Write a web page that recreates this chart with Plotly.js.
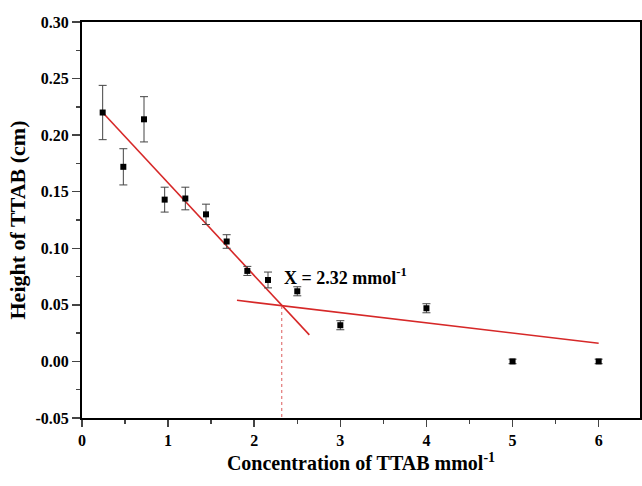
<!DOCTYPE html>
<html><head><meta charset="utf-8">
<script src="https://cdn.plot.ly/plotly-3.0.1.min.js"></script>
<style>html,body{margin:0;padding:0;background:#fff}#plot{width:642px;height:486px}</style>
</head><body><div id="plot"></div>
<script>
const conc = [0.24, 0.48, 0.72, 0.96, 1.2, 1.44, 1.68, 1.92, 2.16, 2.5, 3.0, 4.0, 5.0, 6.0];
const height = [0.220, 0.172, 0.214, 0.143, 0.144, 0.130, 0.106, 0.080, 0.072, 0.062, 0.032, 0.047, 0.000, 0.000];
const heightErr = [0.024, 0.016, 0.020, 0.011, 0.010, 0.009, 0.006, 0.004, 0.007, 0.004, 0.004, 0.004, 0.002, 0.002];
const fit1X = [0.24, 2.64];
const fit1Y = [0.220, 0.0235];
const fit2X = [1.8, 6.0];
const fit2Y = [0.054, 0.016];
const cmcX = [2.32, 2.32];
const cmcY = [0.049, -0.05];
const xTickVals = [0, 1, 2, 3, 4, 5, 6];
const yTickVals = [-0.05, 0, 0.05, 0.10, 0.15, 0.20, 0.25, 0.30];
const yTickText = ["-0.05", "0.00", "0.05", "0.10", "0.15", "0.20", "0.25", "0.30"];

const serif = "Liberation Serif, Times New Roman, serif";
const red = "rgb(214,40,40)";

const traces = [
  {x: fit1X, y: fit1Y, mode: "lines", line: {color: red, width: 1.6}, hoverinfo: "skip"},
  {x: fit2X, y: fit2Y, mode: "lines", line: {color: red, width: 1.6}, hoverinfo: "skip"},
  {x: cmcX, y: cmcY, mode: "lines", line: {color: "rgb(220,90,90)", width: 1, dash: "dot"}, hoverinfo: "skip"},
  {x: conc, y: height, mode: "markers",
   marker: {symbol: "square", size: 6, color: "#000"},
   error_y: {type: "data", array: heightErr, visible: true, color: "#444", thickness: 1, width: 4}}
];

const layout = {
  width: 642, height: 486,
  margin: {l: 82, r: 2, t: 22, b: 68},
  showlegend: false,
  plot_bgcolor: "#fff", paper_bgcolor: "#fff",
  font: {family: serif, color: "#000"},
  xaxis: {
    range: [0, 6.48], tickvals: xTickVals, ticks: "outside", ticklen: 7, tickwidth: 1.5,
    showline: true, linewidth: 2, linecolor: "#000", mirror: true, showgrid: false, zeroline: false,
    minor: {dtick: 0.5, ticks: "outside", ticklen: 4, tickwidth: 1.5, showgrid: false},
    tickfont: {family: serif, size: 16, weight: "bold"},
    title: {text: "Concentration of TTAB mmol<sup>-1</sup>", font: {family: serif, size: 20, weight: "bold"}, standoff: 8}
  },
  yaxis: {
    range: [-0.05, 0.30], tickvals: yTickVals, ticktext: yTickText, ticks: "outside", ticklen: 8, tickwidth: 1.5,
    showline: true, linewidth: 2, linecolor: "#000", mirror: true, showgrid: false, zeroline: false,
    minor: {dtick: 0.025, ticks: "outside", ticklen: 4, tickwidth: 1.5, showgrid: false},
    tickfont: {family: serif, size: 16, weight: "bold"},
    title: {text: "Height of TTAB (cm)", font: {family: serif, size: 22, weight: "bold"}, standoff: 4}
  },
  annotations: [{
    x: 2.32, y: 0.0755, xref: "x", yref: "y", xanchor: "left", yanchor: "middle",
    text: "X = 2.32 mmol<sup>-1</sup>", showarrow: false,
    font: {family: serif, size: 18, weight: "bold", color: "#000"}
  }]
};
Plotly.newPlot("plot", traces, layout, {displayModeBar: false, staticPlot: true});
</script></body></html>
